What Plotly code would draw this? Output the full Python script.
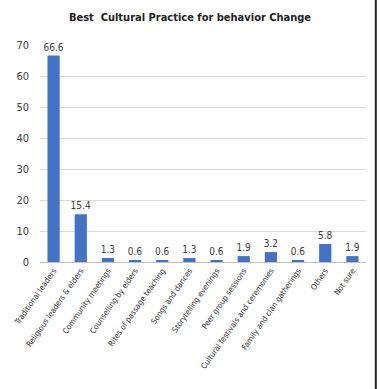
import plotly.graph_objects as go

# Responses per cultural practice (percent)
practices = [
    "Traditional leaders",
    "Religious leaders & elders",
    "Community meetings",
    "Counselling by elders",
    "Rites of passage teaching",
    "Songs and dances",
    "Storytelling evenings",
    "Peer group sessions",
    "Cultural festivals and ceremonies",
    "Family and clan gatherings",
    "Others",
    "Not sure",
]
percent = [66.6, 15.4, 1.3, 0.6, 0.6, 1.3, 0.6, 1.9, 3.2, 0.6, 5.8, 1.9]
y_ticks = [0, 10, 20, 30, 40, 50, 60, 70]

NARROW = "DejaVu Sans Condensed, Liberation Sans Narrow, DejaVu Sans"

fig = go.Figure(
    go.Bar(
        x=practices,
        y=percent,
        marker=dict(color="#4472C4", line=dict(width=0)),
        text=[f"{v:.1f}" for v in percent],
        textposition="outside",
        constraintext="none",
        cliponaxis=False,
        textfont=dict(family=NARROW, size=10, color="#404040"),
    )
)

fig.update_layout(
    width=380,
    height=389,
    margin=dict(l=40, r=14, t=45, b=127, autoexpand=False),
    paper_bgcolor="white",
    plot_bgcolor="white",
    bargap=0.55,
    showlegend=False,
    title=dict(
        text="<b>Best  Cultural Practice for behavior Change</b>",
        x=0.5,
        xanchor="center",
        y=0.955,
        yanchor="middle",
        font=dict(family=NARROW, size=11, color="#222222"),
    ),
    font=dict(family=NARROW, color="#404040"),
)

fig.update_yaxes(
    range=[0, 70],
    tickvals=y_ticks,
    showgrid=True,
    gridcolor="#D9D9D9",
    gridwidth=1,
    zeroline=False,
    showline=False,
    ticks="",
    automargin=False,
    ticklabelstandoff=10,
    tickfont=dict(size=11, color="#404040"),
)
fig.update_xaxes(
    showline=True,
    linecolor="#BFBFBF",
    linewidth=1,
    tickangle=-55,
    ticks="",
    automargin=False,
    tickfont=dict(size=8, color="#333333"),
)

# frame edge on the right side of the image
fig.add_shape(type="line", xref="paper", yref="paper", x0=1.03, x1=1.03, y0=-0.6, y1=1.22,
              line=dict(color="#222222", width=2))

fig.write_html("out.html")
